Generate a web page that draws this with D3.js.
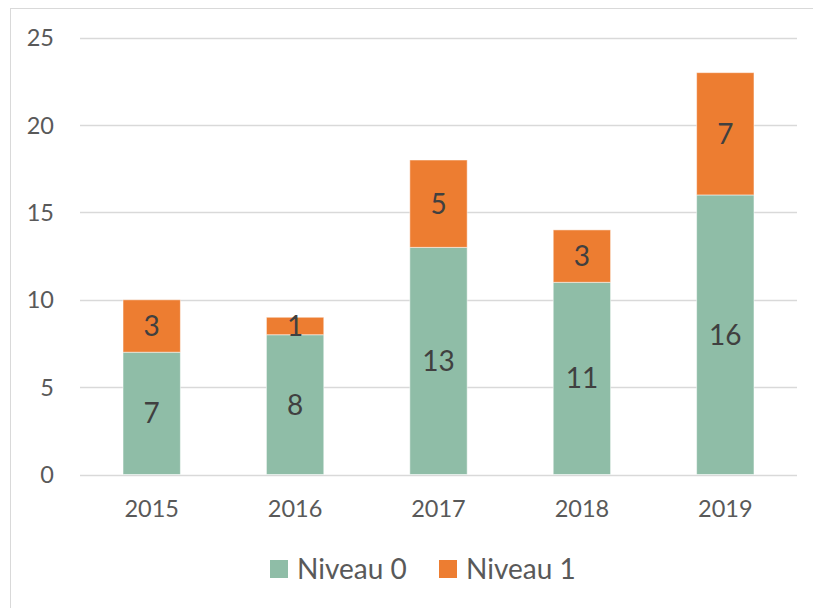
<!DOCTYPE html>
<html>
<head>
<meta charset="utf-8">
<script src="https://cdn.jsdelivr.net/npm/d3@7"></script>
<style>
  body { margin: 0; background: #fff; }
  text { font-family: Lato, "Open Sans", sans-serif; }
</style>
</head>
<body>
<div id="chart"></div>
<script>
var years = ['2015', '2016', '2017', '2018', '2019'];
var niveau0 = [7, 8, 13, 11, 16];
var niveau1 = [3, 1, 5, 3, 7];
var seriesNames = ['Niveau 0', 'Niveau 1'];
var yTicks = [0, 5, 10, 15, 20, 25];
var colors = ['#8fbda7', '#ed7d31'];

var W = 813, H = 608;
var svg = d3.select('#chart').append('svg').attr('width', W).attr('height', H);

// chart frame
svg.append('rect').attr('x', 10.5).attr('y', 8.5).attr('width', W).attr('height', H)
  .attr('fill', 'none').attr('stroke', '#d9d9d9').attr('stroke-width', 1);

var x = d3.scaleBand().domain(years).range([80, 797]).paddingInner(0.6).paddingOuter(0.3);
var y = d3.scaleLinear().domain([0, 25]).range([474.5, 37.7]);

// gridlines
svg.append('g').selectAll('line').data(yTicks).enter().append('line')
  .attr('x1', 80).attr('x2', 797)
  .attr('y1', function(d) { return Math.round(y(d)) + 0.5; })
  .attr('y2', function(d) { return Math.round(y(d)) + 0.5; })
  .attr('stroke', '#d9d9d9').attr('stroke-width', 1.5);

// y axis labels
svg.append('g').selectAll('text').data(yTicks).enter().append('text')
  .attr('x', 54).attr('y', function(d) { return y(d); })
  .attr('dy', '0.36em').attr('text-anchor', 'end')
  .attr('font-size', '23.5px').attr('fill', '#595959')
  .text(function(d) { return d; });

// x axis labels
svg.append('g').selectAll('text').data(years).enter().append('text')
  .attr('x', function(d) { return x(d) + x.bandwidth() / 2; }).attr('y', 509)
  .attr('dy', '0.36em').attr('text-anchor', 'middle')
  .attr('font-size', '23.5px').attr('fill', '#595959')
  .text(function(d) { return d; });

var rows = years.map(function(yr, i) { return { year: yr, n0: niveau0[i], n1: niveau1[i] }; });
var stack = d3.stack().keys(['n0', 'n1'])(rows);

var layers = svg.append('g').selectAll('g').data(stack).enter().append('g')
  .attr('fill', function(d, i) { return colors[i]; });

layers.selectAll('rect').data(function(d) { return d; }).enter().append('rect')
  .attr('x', function(d) { return x(d.data.year); })
  .attr('width', x.bandwidth())
  .attr('y', function(d) { return y(d[1]); })
  .attr('height', function(d) { return y(d[0]) - y(d[1]); })
  .attr('stroke', '#ffffff').attr('stroke-opacity', 0.5).attr('stroke-width', 1);

layers.selectAll('text').data(function(d) { return d; }).enter().append('text')
  .attr('x', function(d) { return x(d.data.year) + x.bandwidth() / 2; })
  .attr('y', function(d) { return y((d[0] + d[1]) / 2); })
  .attr('dy', '0.36em').attr('text-anchor', 'middle')
  .attr('font-size', '28px').attr('fill', '#404040')
  .text(function(d) { return d[1] - d[0]; });

// legend
var legendX = [270, 439];
var legend = svg.append('g').selectAll('g').data(seriesNames).enter().append('g')
  .attr('transform', function(d, i) { return 'translate(' + legendX[i] + ',560)'; });
legend.append('rect').attr('width', 18).attr('height', 18)
  .attr('fill', function(d, i) { return colors[i]; });
legend.append('text').attr('x', 27).attr('y', 9).attr('dy', '0.36em')
  .attr('font-size', '28px').attr('fill', '#595959')
  .text(function(d) { return d; });
</script>
</body>
</html>
